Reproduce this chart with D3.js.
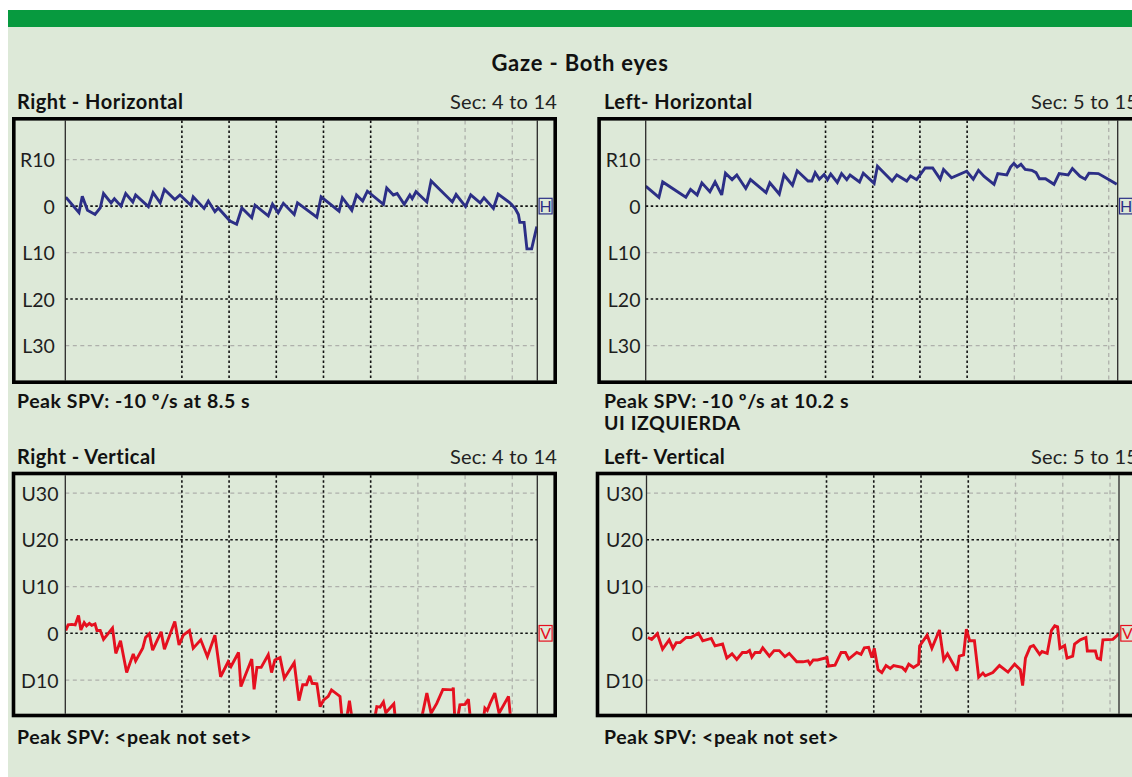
<!DOCTYPE html>
<html><head><meta charset="utf-8">
<script src="https://cdn.jsdelivr.net/npm/d3@7/dist/d3.min.js"></script>
<style>
html,body{margin:0;padding:0;background:#fff;overflow:hidden}
svg{display:block}
text{font-family:Lato,"Open Sans",sans-serif}
</style></head><body>
<svg id="c" width="1132" height="777"></svg>
<script>
// ---------- DATA ----------
const hTickValues = [10, 0, -10, -20, -30];
const hTickLabels = ["R10", "0", "L10", "L20", "L30"];
const hMajorTicks = [0, -20];
const vTickValues = [30, 20, 10, 0, -10];
const vTickLabels = ["U30", "U20", "U10", "0", "D10"];
const vMajorTicks = [20, 0];

const rightGridBlack = [6.47, 7.47, 8.47, 9.47, 10.47];
const rightGridGrey = [11.47, 12.47, 13.47];
const leftGridBlack = [8.81, 9.81, 10.81, 11.81];
const leftGridGrey = [12.81, 13.81, 14.81];

// Right - Horizontal
const rhT = [4.01,4.29,4.36,4.47,4.63,4.74,4.81,4.97,5.04,5.18,5.28,5.43,5.49,5.76,5.86,6.01,6.10,6.32,6.43,6.66,6.71,6.94,7.03,7.17,7.24,7.49,7.63,7.74,7.95,8.02,8.30,8.39,8.51,8.62,8.85,8.92,9.33,9.42,9.80,9.87,10.07,10.17,10.30,10.40,10.74,10.81,10.95,11.03,11.18,11.30,11.35,11.43,11.66,11.75,12.20,12.28,12.48,12.59,12.79,12.87,13.07,13.17,13.42,13.53,13.60,13.63,13.72,13.78,13.88,13.99];
const rhV = [1.9,-1.4,2.1,-0.9,-1.8,-0.4,2.7,0.7,1.6,0,2.7,0.9,2.4,-0.1,2.9,0.7,3.6,1.4,2.4,0.2,2.0,-0.5,1.1,-1.2,-0.4,-3.2,-3.9,-0.4,-2.5,0.2,-2.1,0.4,-1.4,0.6,-1.8,0.7,-2.4,2.0,-1.1,1.8,-0.9,2.4,1.1,3.2,0.4,3.9,2.4,2.7,0.4,2.4,1.6,3.1,0.9,5.4,0.9,2.5,-0.1,2.4,0.7,1.8,-0.5,2.6,0.7,-0.5,-1.8,-3.5,-3.5,-9.2,-9.2,-4.4];

// Left - Horizontal
const lhT = [5.00,5.28,5.36,5.85,5.95,6.09,6.19,6.36,6.47,6.61,6.69,6.83,6.93,7.12,7.22,7.55,7.63,7.83,7.93,8.11,8.21,8.44,8.52,8.59,8.68,8.78,8.85,8.92,9.06,9.15,9.26,9.33,9.53,9.61,9.84,9.91,10.22,10.32,10.53,10.61,10.74,10.92,11.08,11.24,11.31,11.48,11.80,11.94,12.05,12.17,12.38,12.46,12.65,12.73,12.80,12.87,12.95,13.04,13.18,13.27,13.34,13.47,13.65,13.76,13.95,14.04,14.20,14.31,14.39,14.59,14.80,14.98];
const lhV = [4.3,1.9,5.2,1.9,3.6,2.4,5.0,3.1,5.2,2.4,7.1,5.7,6.7,3.8,5.7,2.9,5.0,2.6,6.7,4.5,7.6,5.4,5.4,7.2,5.8,6.8,5.7,6.9,5.1,7.0,5.7,6.7,5.2,7.1,4.9,8.6,5.4,6.7,5.4,6.5,5.7,8.2,8.2,5.8,7.9,6.1,7.5,5.8,7.7,6.4,4.7,7.0,6.7,8.4,9.2,8.4,9.0,7.9,7.7,7.2,5.9,5.9,4.7,7.0,6.7,8.1,6.4,5.8,7.1,7.0,5.8,4.7];

// Right - Vertical
const rvT = [4.01,4.06,4.14,4.21,4.28,4.33,4.40,4.45,4.51,4.56,4.63,4.67,4.74,4.81,5.00,5.07,5.17,5.30,5.44,5.49,5.64,5.70,5.78,5.85,6.03,6.10,6.32,6.41,6.50,6.63,6.71,6.87,7.01,7.17,7.29,7.45,7.51,7.67,7.72,7.95,8.00,8.06,8.15,8.30,8.37,8.44,8.55,8.64,8.85,8.95,9.03,9.11,9.18,9.23,9.33,9.40,9.47,9.57,9.64,9.82,9.88,9.95,10.02,10.10,10.54,10.60,10.67,10.74,10.79,10.88,10.96,11.01,11.51,11.66,11.75,11.87,12.00,12.21,12.22,12.26,12.30,12.36,12.47,12.54,12.60,12.85,12.89,12.94,13.00,13.10,13.19,13.39,13.45];
const rvV = [0.6,1.8,1.9,1.8,3.8,0.7,2.3,1.6,2.1,1.7,2.0,0.6,0.6,-1.3,1.1,-4.3,-1.6,-8.4,-4.4,-5.9,-3.2,-0.9,-0.1,-3.6,0.3,-3.4,2.5,-2.5,-0.4,0.6,-3.2,-1.4,-5.0,-0.4,-9.3,-6.1,-7.1,-4.1,-11.4,-5.5,-12.0,-7.3,-7.3,-4.6,-8.4,-5.7,-5.2,-9.6,-6.3,-14.4,-11.0,-11.0,-9.1,-10.7,-10.8,-15.7,-14.3,-13.5,-12.1,-13.5,-20,-19,-14.4,-20,-19,-15.7,-15.8,-14.7,-17,-16,-15.1,-20,-20,-12.8,-17.1,-15.0,-12.0,-12.1,-11.6,-20,-19,-15.3,-15.2,-14.1,-20,-19,-16.0,-16.5,-15.0,-12.8,-17.1,-13.5,-20];

// Left - Vertical
const lvT = [5.03,5.11,5.23,5.34,5.48,5.56,5.63,5.71,5.84,5.94,6.10,6.19,6.37,6.45,6.61,6.70,6.81,6.91,7.03,7.12,7.18,7.23,7.30,7.40,7.46,7.60,7.70,7.81,7.93,8.02,8.18,8.31,8.42,8.46,8.53,8.62,8.82,8.85,8.99,9.12,9.21,9.28,9.45,9.54,9.61,9.70,9.77,9.82,9.90,9.98,10.07,10.16,10.23,10.41,10.48,10.55,10.65,10.76,10.78,10.94,11.04,11.20,11.29,11.37,11.57,11.62,11.71,11.77,11.84,11.94,12.03,12.12,12.17,12.33,12.47,12.65,12.79,12.91,12.96,13.02,13.12,13.19,13.32,13.37,13.48,13.57,13.64,13.70,13.75,13.85,13.90,14.02,14.06,14.18,14.30,14.33,14.50,14.54,14.61,14.66,14.87,15.00];
const lvV = [-0.9,-1.3,-0.1,-3.4,-1.4,-3.2,-2.0,-2.0,-0.9,-0.9,0.0,-1.6,-1.1,-2.7,-2.3,-5.3,-4.4,-5.6,-4.1,-4.1,-3.7,-5.1,-4.1,-4.1,-3.1,-4.9,-3.7,-3.7,-5.0,-4.3,-6.1,-6.1,-5.9,-6.6,-5.7,-5.7,-5.2,-7.0,-6.8,-4.1,-4.1,-5.5,-4.1,-4.5,-3.1,-3.0,-5.2,-3.2,-7.8,-8.4,-6.9,-7.5,-6.9,-7.3,-8.0,-6.6,-7.3,-6.6,-2.7,-0.4,-3.2,0.7,-5.7,-4.4,-8.0,-4.9,-4.6,0.9,-1.6,-1.6,-9.4,-8.5,-9.1,-8.4,-6.9,-8.3,-6.6,-7.8,-11.2,-5.3,-2.9,-2.6,-4.5,-3.9,-4.3,0.6,1.6,1.4,-3.2,-2.6,-5.3,-4.9,-2.3,-1.4,-0.9,-3.8,-3.8,-5.3,-5.6,-1.4,-1.3,-0.1];

const mainTitle = "Gaze - Both eyes";
const panelTitles = ["Right - Horizontal", "Left- Horizontal", "Right - Vertical", "Left- Vertical"];
const panelSecs = ["Sec: 4 to 14", "Sec: 5 to 15", "Sec: 4 to 14", "Sec: 5 to 15"];
const panelFooters = [["Peak SPV: -10 º/s at 8.5 s"], ["Peak SPV: -10 º/s at 10.2 s", "UI IZQUIERDA"], ["Peak SPV: <peak not set>"], ["Peak SPV: <peak not set>"]];

// ---------- LAYOUT ----------
const BLUE = "#2c2f86", RED = "#e5101f";
const panels = [
  {t:rhT, v:rhV, t0:4, t1:14, dom:[18.4,-37.5], ticks:hTickValues, labels:hTickLabels, major:hMajorTicks, gB:rightGridBlack, gG:rightGridGrey, col:BLUE, mark:"H",
   boxL:12, boxR:557, boxT:117, boxB:384, plotL:65.3, plotR:537.3, labelX:54.8, textX:17, headY:108.5, footY:408},
  {t:lhT, v:lhV, t0:5, t1:15, dom:[18.4,-37.5], ticks:hTickValues, labels:hTickLabels, major:hMajorTicks, gB:leftGridBlack, gG:leftGridGrey, col:BLUE, mark:"H",
   boxL:597.3, boxR:1138, boxT:117, boxB:384, plotL:645.7, plotR:1117.7, labelX:640.5, textX:604, headY:108.5, footY:408},
  {t:rvT, v:rvV, t0:4, t1:14, dom:[33.8,-17.2], ticks:vTickValues, labels:vTickLabels, major:vMajorTicks, gB:rightGridBlack, gG:rightGridGrey, col:RED, mark:"V",
   boxL:11.7, boxR:557, boxT:471.7, boxB:717.3, plotL:65.3, plotR:537.3, labelX:58.5, textX:17, headY:463.5, footY:743.5},
  {t:lvT, v:lvV, t0:5, t1:15, dom:[33.8,-17.2], ticks:vTickValues, labels:vTickLabels, major:vMajorTicks, gB:leftGridBlack, gG:leftGridGrey, col:RED, mark:"V",
   boxL:595.7, boxR:1138, boxT:471.7, boxB:717.3, plotL:646.5, plotR:1119, labelX:643, textX:604, headY:463.5, footY:743.5}
];

const svg = d3.select("#c");
svg.append("rect").attr("x",8).attr("y",10).attr("width",1124).attr("height",17).attr("fill","#079a3f");
svg.append("rect").attr("x",8).attr("y",27).attr("width",1124).attr("height",750).attr("fill","#dde9d8");
svg.append("text").attr("x",580).attr("y",71).attr("text-anchor","middle")
  .attr("font-size",22).attr("font-weight","bold").attr("letter-spacing",0.8).attr("fill","#111").text(mainTitle);

const BW = 3.6;
panels.forEach((p, i) => {
  const g = svg.append("g");
  const inT = p.boxT + BW, inB = p.boxB - BW;
  const x = d3.scaleLinear().domain([p.t0, p.t1]).range([p.plotL, p.plotR]);
  const y = d3.scaleLinear().domain(p.dom).range([inT, inB]);

  const cid = "clip" + i;
  svg.append("clipPath").attr("id", cid).append("rect")
    .attr("x", p.plotL).attr("y", inT).attr("width", p.plotR - p.plotL).attr("height", inB - inT);

  // horizontal grid
  g.selectAll(".hg").data(p.ticks).join("line")
    .attr("x1", p.plotL).attr("x2", p.plotR)
    .attr("y1", d => y(d)).attr("y2", d => y(d))
    .attr("stroke", d => p.major.includes(d) ? "#111" : "#aeb0ab")
    .attr("stroke-width", d => p.major.includes(d) ? 1.6 : 1.3)
    .attr("stroke-dasharray", d => p.major.includes(d) ? "2.5,2.5" : "4,3.5");
  // vertical grid
  g.selectAll(".vgb").data(p.gB).join("line")
    .attr("x1", d => x(d)).attr("x2", d => x(d)).attr("y1", inT).attr("y2", inB)
    .attr("stroke", "#111").attr("stroke-width", 1.6).attr("stroke-dasharray", "2.5,2.5");
  g.selectAll(".vgg").data(p.gG).join("line")
    .attr("x1", d => x(d)).attr("x2", d => x(d)).attr("y1", inT).attr("y2", inB)
    .attr("stroke", "#aeb0ab").attr("stroke-width", 1.3).attr("stroke-dasharray", "4,3.5");

  // data line
  const pts = p.t.map((t, k) => [t, p.v[k]]);
  g.append("path").datum(pts)
    .attr("clip-path", `url(#${cid})`)
    .attr("fill", "none").attr("stroke", p.col).attr("stroke-width", 2.9)
    .attr("stroke-linejoin", "miter").attr("stroke-miterlimit", 3)
    .attr("d", d3.line().x(d => x(d[0])).y(d => y(d[1])));

  // inner vertical lines
  [p.plotL, p.plotR].forEach(xx => g.append("line")
    .attr("x1", xx).attr("x2", xx).attr("y1", inT).attr("y2", inB)
    .attr("stroke", "#2a2a2a").attr("stroke-width", 1.3));

  // outer box
  g.append("rect").attr("x", p.boxL + BW/2).attr("y", p.boxT + BW/2)
    .attr("width", p.boxR - p.boxL - BW).attr("height", p.boxB - p.boxT - BW)
    .attr("fill", "none").attr("stroke", "#000").attr("stroke-width", BW);

  // y labels via axis
  const ax = d3.axisLeft(y).tickValues(p.ticks).tickSize(0).tickPadding(0)
    .tickFormat((d, k) => p.labels[k]);
  const ag = g.append("g").attr("transform", `translate(${p.labelX},0)`).call(ax);
  ag.select(".domain").remove();
  ag.selectAll("text").attr("font-size", 19.5).attr("fill", "#1e1e1e")
    .attr("font-family", "Lato, 'Open Sans', sans-serif").attr("dy", "0.36em");

  // marker
  const my = y(0);
  g.append("rect").attr("x", p.plotR + 1.8).attr("y", my - 7.8).attr("width", 13).attr("height", 15.6)
    .attr("fill", "none").attr("stroke", p.col).attr("stroke-width", 1.2);
  g.append("text").attr("x", p.plotR + 8.3).attr("y", my + 6).attr("text-anchor", "middle")
    .attr("font-size", 16).attr("fill", p.col).text(p.mark);

  // header
  g.append("text").attr("x", p.textX).attr("y", p.headY)
    .attr("font-size", 20).attr("font-weight", "bold").attr("letter-spacing", 0.5).attr("fill", "#111").text(panelTitles[i]);
  g.append("text").attr("x", p.boxR).attr("y", p.headY).attr("text-anchor", "end")
    .attr("font-size", 20).attr("letter-spacing", 0.2).attr("fill", "#222").text(panelSecs[i]);
  panelFooters[i].forEach((s, k) => g.append("text").attr("x", p.textX).attr("y", p.footY + k * 22)
    .attr("font-size", 19.5).attr("font-weight", "bold").attr("letter-spacing", 0.55).attr("fill", "#111").text(s));
});
</script>
</body></html>
